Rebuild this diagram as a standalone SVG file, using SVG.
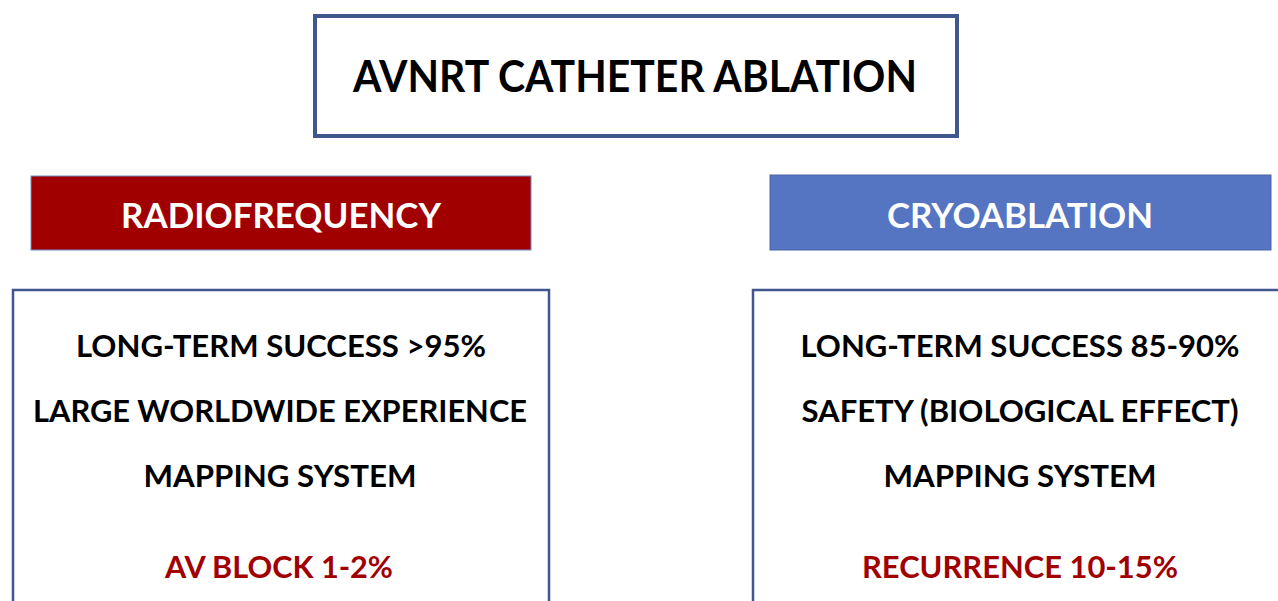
<svg xmlns="http://www.w3.org/2000/svg" width="1278" height="601" viewBox="0 0 1278 601">
<style>
text{font-family:Lato,"Open Sans","Liberation Sans",sans-serif;font-weight:bold;text-anchor:middle}
.title{font-size:43px;fill:#000}
.hdr{font-size:35px;fill:#fff}
.body{font-size:31px;fill:#000}
.neg{font-size:31px;fill:#a00000}
.frame{fill:#fff;stroke:#41568f}
</style>
<rect width="1278" height="601" fill="#fff"/>
<g id="title">
<rect class="frame" x="315" y="16" width="642" height="120" stroke-width="4"/>
<text class="title" x="635" y="92" textLength="564" lengthAdjust="spacingAndGlyphs">AVNRT CATHETER ABLATION</text>
</g>
<g id="radiofrequency">
<rect x="31" y="176" width="500" height="74" fill="#a00000" stroke="#6f8fc8" stroke-width="1"/>
<text class="hdr" x="281" y="228" textLength="320" lengthAdjust="spacingAndGlyphs">RADIOFREQUENCY</text>
</g>
<g id="cryoablation">
<rect x="770" y="175" width="501" height="75" fill="#5574c2" stroke="#4a65a8" stroke-width="1"/>
<text class="hdr" x="1020" y="228" textLength="266" lengthAdjust="spacingAndGlyphs">CRYOABLATION</text>
</g>
<g id="rf-details">
<rect class="frame" x="13" y="290" width="536" height="330" stroke-width="2.5"/>
<text class="body" x="281" y="357" textLength="410" lengthAdjust="spacingAndGlyphs">LONG-TERM SUCCESS &gt;95%</text>
<text class="body" x="280" y="422" textLength="494" lengthAdjust="spacingAndGlyphs">LARGE WORLDWIDE EXPERIENCE</text>
<text class="body" x="280" y="487" textLength="273" lengthAdjust="spacingAndGlyphs">MAPPING SYSTEM</text>
<text class="neg" x="279" y="578" textLength="228" lengthAdjust="spacingAndGlyphs">AV BLOCK 1-2%</text>
</g>
<g id="cryo-details">
<rect class="frame" x="753" y="290" width="540" height="330" stroke-width="2.5"/>
<text class="body" x="1020" y="357" textLength="439" lengthAdjust="spacingAndGlyphs">LONG-TERM SUCCESS 85-90%</text>
<text class="body" x="1020" y="422" textLength="437" lengthAdjust="spacingAndGlyphs">SAFETY (BIOLOGICAL EFFECT)</text>
<text class="body" x="1020" y="487" textLength="273" lengthAdjust="spacingAndGlyphs">MAPPING SYSTEM</text>
<text class="neg" x="1020" y="578" textLength="316" lengthAdjust="spacingAndGlyphs">RECURRENCE 10-15%</text>
</g>
<g id="connectors"></g>
</svg>
